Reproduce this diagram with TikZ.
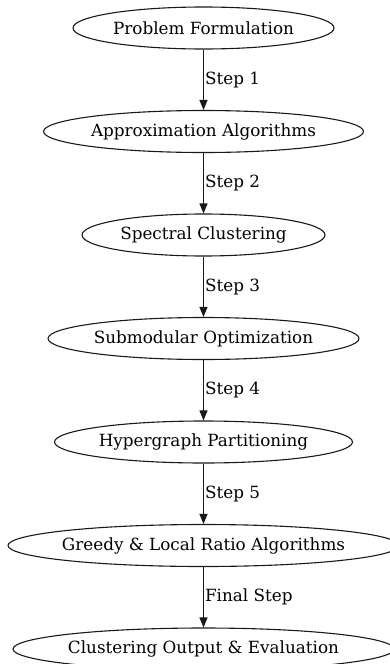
\documentclass[tikz,border=0pt]{standalone}
\usepackage{fontspec}
\setmainfont{DejaVu Serif}
\usetikzlibrary{arrows.meta,shapes.geometric}
\begin{document}
\begin{tikzpicture}[x=1pt,y=-1pt,
  stage/.style={draw=black!90, line width=1.1pt, ellipse, inner ysep=0pt, inner xsep=-40pt, minimum height=42pt,
    font=\fontsize{16.8}{19}\selectfont},
  flow/.style={draw=black!90, line width=1.1pt, -{Triangle[length=10pt,width=8pt]}},
  lbl/.style={anchor=west, inner sep=1pt, font=\fontsize{16.8}{19}\selectfont}]
\useasboundingbox (0,0) rectangle (390,664);
\node[stage, minimum width=261pt] (n1) at (203.5,28) {Problem Formulation};
\node[stage, minimum width=320pt] (n2) at (203.5,131.5) {Approximation Algorithms};
\node[stage, minimum width=243pt] (n3) at (203.5,235) {Spectral Clustering};
\node[stage, minimum width=311pt] (n4) at (203.5,338.5) {Submodular Optimization};
\node[stage, minimum width=298pt] (n5) at (203.5,442) {Hypergraph Partitioning};
\node[stage, minimum width=391pt] (n6) at (203.5,545.5) {Greedy \& Local Ratio Algorithms};
\node[stage, minimum width=381pt] (n7) at (203.5,649) {Clustering Output \& Evaluation};
\draw[flow] (n1) -- node[lbl]{Step 1} (n2);
\draw[flow] (n2) -- node[lbl]{Step 2} (n3);
\draw[flow] (n3) -- node[lbl]{Step 3} (n4);
\draw[flow] (n4) -- node[lbl]{Step 4} (n5);
\draw[flow] (n5) -- node[lbl]{Step 5} (n6);
\draw[flow] (n6) -- node[lbl]{Final Step} (n7);
\end{tikzpicture}
\end{document}
